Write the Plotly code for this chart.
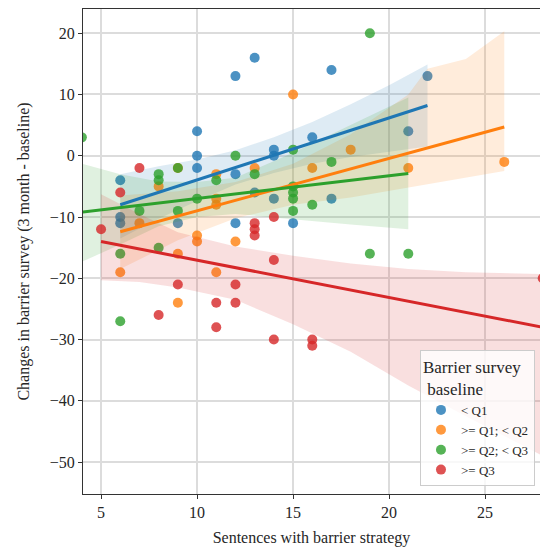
import plotly.graph_objects as go

# ---- data ----
groups = ["< Q1", ">= Q1; < Q2", ">= Q2; < Q3", ">= Q3"]
colors = ["#1f77b4", "#ff7f0e", "#2ca02c", "#d62728"]

q1_x = [12, 13, 17, 22, 10, 10, 10, 21, 14, 14, 16, 6, 12, 6, 6, 9, 12, 14, 17, 15, 13]
q1_y = [13, 16, 14, 13, 4, 0, -2, 4, 1, 0, 3, -4, -3, -10, -11, -11, -11, -7, -7, -11, -6]

q2_x = [15, 18, 16, 21, 26, 13, 11, 9, 8, 7, 6, 9, 9, 11, 10, 10, 12, 11, 11]
q2_y = [10, 1, -2, -2, -1, -2, -3, -2, -5, -11, -19, -16, -24, -19, -13, -14, -14, -7, -8]

q3_x = [4, 8, 8, 9, 12, 11, 19, 15, 13, 17, 7, 9, 10, 15, 15, 15, 15, 16, 19, 21, 6, 8, 6]
q3_y = [3, -3, -4, -2, 0, -4, 20, 1, -3, -1, -9, -9, -7, -5, -6, -7, -9, -8, -16, -16, -16, -15, -27]

q4_x = [7, 6, 5, 13, 13, 13, 14, 14, 9, 12, 11, 12, 8, 11, 14, 16, 16, 28]
q4_y = [-2, -6, -12, -11, -12, -13, -10, -17, -21, -21, -24, -24, -26, -28, -30, -30, -31, -20]

# regression lines (end points)
q1_fit_x = [6, 22]
q1_fit_y = [-8.0, 8.2]
q2_fit_x = [6, 26]
q2_fit_y = [-12.4, 4.7]
q3_fit_x = [4, 21]
q3_fit_y = [-9.2, -2.9]
q4_fit_x = [5, 28]
q4_fit_y = [-14.0, -28.0]

# confidence bands
q1_band_x = [6, 8, 10, 12, 14, 16, 18, 20, 22]
q1_band_lo = [-13.5, -10.3, -7.4, -4.7, -2.8, -1.3, -0.2, 0.7, 1.5]
q1_band_hi = [-3.0, -1.7, -0.6, 0.9, 3.0, 5.5, 8.4, 11.5, 14.9]

q2_band_x = [6, 9, 12, 15, 18, 21, 22, 24, 26]
q2_band_lo = [-18.5, -13.8, -10.2, -8.0, -6.8, -5.2, -4.6, -3.6, -2.5]
q2_band_hi = [-6.5, -5.8, -4.3, -1.3, 3.5, 10.0, 14.2, 15.8, 20.3]

q3_band_x = [4, 6, 8, 10, 12, 15, 18, 21]
q3_band_lo = [-17.3, -14.5, -11.5, -10.0, -9.5, -10.4, -11.2, -12.0]
q3_band_hi = [-1.3, -3.0, -4.2, -4.3, -3.6, 0.5, 5.0, 9.5]

q4_band_x = [5, 7, 9, 12, 15, 18, 21, 24, 28]
q4_band_lo = [-20.3, -20.6, -21.5, -23.5, -27.5, -32.0, -37.5, -42.5, -49.0]
q4_band_hi = [-6.3, -9.5, -12.5, -14.8, -16.3, -17.6, -18.5, -19.0, -19.3]

x_ticks = [5, 10, 15, 20, 25]
y_ticks = [20, 10, 0, -10, -20, -30, -40, -50]

points = [(q1_x, q1_y), (q2_x, q2_y), (q3_x, q3_y), (q4_x, q4_y)]
fits = [(q1_fit_x, q1_fit_y), (q2_fit_x, q2_fit_y), (q3_fit_x, q3_fit_y), (q4_fit_x, q4_fit_y)]
bands = [(q1_band_x, q1_band_lo, q1_band_hi), (q2_band_x, q2_band_lo, q2_band_hi),
         (q3_band_x, q3_band_lo, q3_band_hi), (q4_band_x, q4_band_lo, q4_band_hi)]


def rgba(hex_color, a):
    h = hex_color.lstrip("#")
    r, g, b = int(h[0:2], 16), int(h[2:4], 16), int(h[4:6], 16)
    return f"rgba({r},{g},{b},{a})"


FONT = "Liberation Serif"
TEXT = "#262626"

fig = go.Figure()
for name, col, (px, py), (bx, blo, bhi) in zip(groups, colors, points, bands):
    fig.add_trace(go.Scatter(x=px, y=py, mode="markers", name=name,
                             marker=dict(color=col, size=10, opacity=0.8, line=dict(width=0))))
    fig.add_trace(go.Scatter(x=bx, y=blo, mode="lines", line=dict(width=0, color=col),
                             showlegend=False, hoverinfo="skip"))
    fig.add_trace(go.Scatter(x=bx, y=bhi, mode="lines", line=dict(width=0, color=col),
                             fill="tonexty", fillcolor=rgba(col, 0.15),
                             showlegend=False, hoverinfo="skip"))

for col, (fx, fy) in zip(colors, fits):
    fig.add_trace(go.Scatter(x=fx, y=fy, mode="lines", line=dict(color=col, width=3),
                             showlegend=False, hoverinfo="skip"))

axis_common = dict(showgrid=True, gridcolor="#dcdcdc", gridwidth=1.5, zeroline=False,
                   showline=True, linecolor="#333333", linewidth=1.2, mirror=True,
                   ticks="outside", ticklen=4, tickwidth=1, tickcolor="#333333",
                   automargin=False,
                   tickfont=dict(family=FONT, size=16, color=TEXT))

fig.update_layout(
    width=540, height=549,
    margin=dict(l=83, r=0, t=9, b=55),
    plot_bgcolor="white", paper_bgcolor="white",
    font=dict(family=FONT, size=16, color=TEXT),
    xaxis=dict(range=[4.06, 27.86], tickvals=x_ticks,
               title=dict(text="Sentences with barrier strategy",
                          font=dict(family=FONT, size=16, color=TEXT), standoff=11),
               **axis_common),
    yaxis=dict(range=[-55.2, 23.95], tickvals=y_ticks,
               title=dict(text="Changes in barrier survey (3 month - baseline)",
                          font=dict(family=FONT, size=16, color=TEXT), standoff=16),
               **axis_common),
    legend=dict(
        title=dict(text="Barrier survey<br>\u00a0baseline", font=dict(family=FONT, size=17, color=TEXT)),
        font=dict(family=FONT, size=13, color=TEXT),
        traceorder="normal",
        x=0.989, y=0.017, xanchor="right", yanchor="bottom",
        bgcolor="rgba(255,255,255,0.8)", bordercolor="#cccccc", borderwidth=1,
        tracegroupgap=0,
    ),
)

fig.write_html(
    "out.html",
    config={"displayModeBar": False},
    post_script="document.body.style.margin='0px';"
                "document.documentElement.style.overflow='hidden';"
                "document.body.style.overflow='hidden';",
)
